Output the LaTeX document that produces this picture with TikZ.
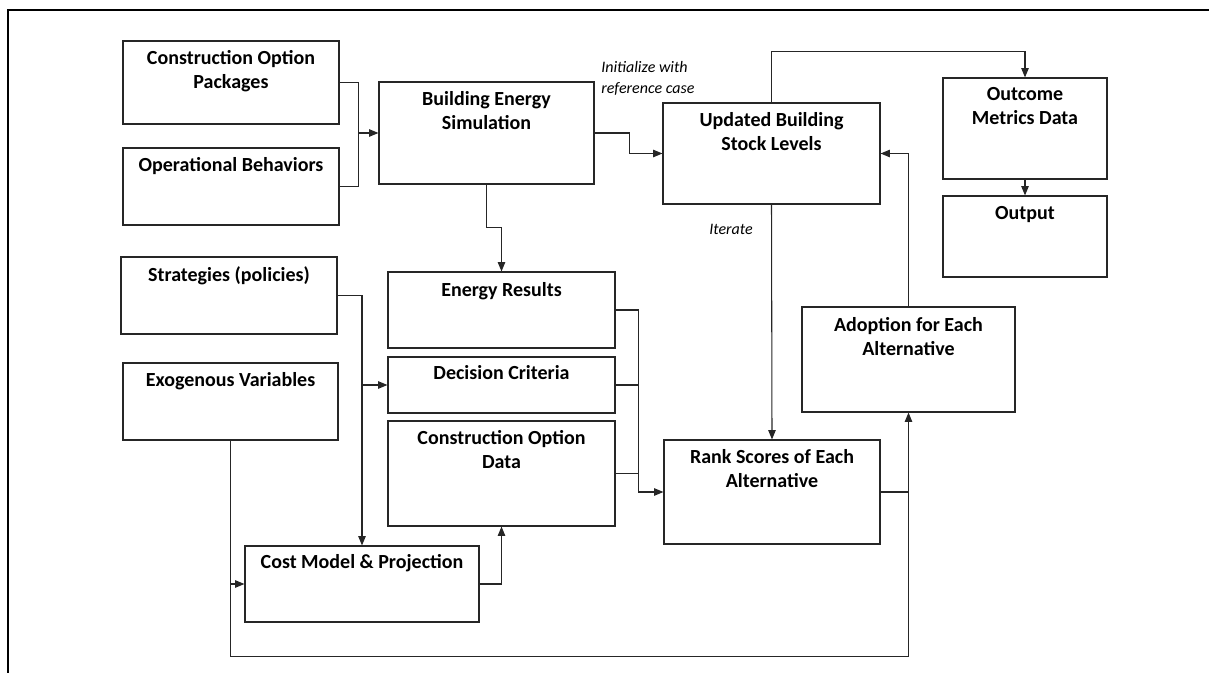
\documentclass[tikz,border=0pt]{standalone}
\usepackage{fontspec}
\setmainfont{Carlito}
\usetikzlibrary{arrows.meta,fit,calc}
\newcommand\firstln{\rule{0pt}{12pt}}
\newcommand\firstnote{\rule{0pt}{10pt}}
\begin{document}
\begin{tikzpicture}[x=0.75pt,y=-0.75pt,
  box/.style={draw=black!85,line width=0.85pt,inner sep=0pt,fill=white},
  txt/.style={anchor=north,inner sep=0pt,align=center,font=\fontsize{15}{18}\selectfont\bfseries},
  conn/.style={draw=black!85,line width=0.8pt},
  arr/.style={conn,-{Triangle[length=7pt,width=5.6pt]}},
  note/.style={anchor=north west,inner sep=0pt,align=left,font=\fontsize{12}{15.6}\selectfont\itshape}]
\useasboundingbox (0,0) rectangle (1209,673);
% frame
\draw[line width=1.5pt] (1209,10.5) -- (7.5,10.5) -- (7.5,673);
% boxes
\node[box,fit={(123,41)(339,124)}] (cop) {};
\node[box,fit={(123,148)(339,225)}] (ob) {};
\node[box,fit={(379,82)(594,184)}] (bes) {};
\node[box,fit={(663,103)(880,204)}] (usl) {};
\node[box,fit={(943,78)(1107,179)}] (omd) {};
\node[box,fit={(943,196)(1107,277)}] (out) {};
\node[box,fit={(121,257)(337,334)}] (strat) {};
\node[box,fit={(123,363)(338,440)}] (exo) {};
\node[box,fit={(388,272)(615,348)}] (er) {};
\node[box,fit={(388,357)(615,413)}] (dc) {};
\node[box,fit={(388,421)(615,526)}] (cod) {};
\node[box,fit={(245,546)(479,622)}] (cost) {};
\node[box,fit={(664,440)(880,544)}] (rank) {};
\node[box,fit={(802,307)(1015,412)}] (adopt) {};
% box texts
\node[txt] (coptxt) at ($(cop.north)+(0,8)$) {\firstln Construction Option\\Packages};
\node[txt] (obtxt) at ($(ob.north)+(0,8)$) {\firstln Operational Behaviors};
\node[txt] (bestxt) at ($(bes.north)+(0,8)$) {\firstln Building Energy\\Simulation};
\node[txt] (usltxt) at ($(usl.north)+(0,8)$) {\firstln Updated Building\\Stock Levels};
\node[txt] (omdtxt) at ($(omd.north)+(0,7)$) {\firstln Outcome\\Metrics Data};
\node[txt] (outtxt) at ($(out.north)+(0,8)$) {\firstln Output};
\node[txt] (strattxt) at ($(strat.north)+(0,9)$) {\firstln Strategies (policies)};
\node[txt] (exotxt) at ($(exo.north)+(0,8)$) {\firstln Exogenous Variables};
\node[txt] (ertxt) at ($(er.north)+(0,9)$) {\firstln Energy Results};
\node[txt] (dctxt) at ($(dc.north)+(0,7)$) {\firstln Decision Criteria};
\node[txt] (codtxt) at ($(cod.north)+(0,8)$) {\firstln Construction Option\\Data};
\node[txt] (costtxt) at ($(cost.north)+(0,7)$) {\firstln Cost Model \& Projection};
\node[txt] (ranktxt) at ($(rank.north)+(0,8)$) {\firstln Rank Scores of Each\\Alternative};
\node[txt] (adopttxt) at ($(adopt.north)+(0,9)$) {\firstln Adoption for Each\\Alternative};
% notes
\node[note] (init) at (601,58.7) {\firstnote Initialize with\\reference case};
\node[note] (iter) at (709,220.7) {\firstnote Iterate};
% junctions
\coordinate (j1) at ($(bes.west)+(-20,0)$);
\coordinate (bj) at ($(er.north)+(0,-44)$);
\coordinate (jr) at ($(rank.west)+(-25,0)$);
\coordinate (bot) at ($(adopt.south)+(0,244)$);
% connectors
\draw[conn] (cop.east) -| (j1) |- (ob.east);
\draw[arr] (j1) -- (bes.west);
\draw[arr] (bes.east) -- ++(35,0) |- (usl.west);
\draw[arr] (bes.south) |- (bj) -- (er.north);
\draw[arr] (usl.south) -- (rank.north);
\draw[arr] (usl.north) -- ++(0,-51) -| (omd.north);
\draw[arr] (omd.south) -- (out.north);
\draw[arr] (adopt.north) |- (usl.east);
\draw[arr] (strat.east) -| (cost.north);
\draw[arr] (cost.north |- dc.west) -- (dc.west);
\draw[arr] (exo.south) |- (bot) -- (adopt.south);
\draw[arr] (exo.south |- cost.west) -- (cost.west);
\draw[conn] (rank.east) -- (rank.east -| adopt.south);
\draw[arr] (cost.east) -| (cod.south);
\draw[arr] (er.east) -| (jr) -- (rank.west);
\draw[conn] (dc.east) -- (dc.east -| jr);
\draw[conn] (cod.east) -- (cod.east -| jr);
\end{tikzpicture}
\end{document}
